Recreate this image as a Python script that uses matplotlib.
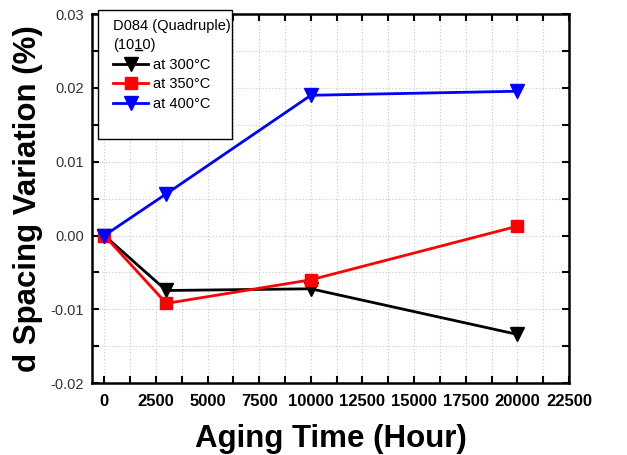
import matplotlib
matplotlib.use("Agg")
import matplotlib.pyplot as plt
from matplotlib.lines import Line2D
from matplotlib.patches import Rectangle
from matplotlib.text import Text
from matplotlib.ticker import MultipleLocator, FormatStrFormatter

plt.rcParams['font.family'] = ['Liberation Sans', 'DejaVu Sans']
plt.rcParams['axes.unicode_minus'] = False

hours = [0, 3000, 10000, 20000]
s300 = [0.0, -0.00745, -0.00722, -0.0134]
s350 = [0.0, -0.0092, -0.0060, 0.00126]
s400 = [0.0, 0.00565, 0.0190, 0.01955]
labels = ["at 300°C", "at 350°C", "at 400°C"]
title_line1 = "D084 (Quadruple)"
title_line2 = "(1010)"

W, H = 627, 455
fig = plt.figure(figsize=(W / 100, H / 100), dpi=100)
ax = fig.add_axes([0.1467, 0.158, 0.7608, 0.811])

ax.plot(hours, s300, color='black', lw=2, marker='v', ms=10, label=labels[0])
ax.plot(hours, s350, color='red', lw=2, marker='s', ms=8, label=labels[1])
ax.plot(hours, s400, color='blue', lw=2, marker='v', ms=10, label=labels[2])

ax.set_xlim(-600, 22500)
ax.set_ylim(-0.02, 0.03)
ax.xaxis.set_major_locator(MultipleLocator(2500))
ax.xaxis.set_minor_locator(MultipleLocator(1250))
ax.yaxis.set_major_locator(MultipleLocator(0.01))
ax.yaxis.set_minor_locator(MultipleLocator(0.005))
ax.yaxis.set_major_formatter(FormatStrFormatter('%.2f'))

ax.grid(True, which='both', linestyle=(0, (1, 2)), color='#c8c8c8', lw=0.8)
ax.set_axisbelow(True)
ax.tick_params(which='both', direction='in', top=True, right=True, length=5, width=1.5)
ax.tick_params(axis='x', labelsize=12, pad=8)
ax.tick_params(axis='y', labelsize=10.5, labelcolor='#333333', pad=6)
for lab in ax.get_xticklabels():
    lab.set_fontweight('bold')
for sp in ax.spines.values():
    sp.set_linewidth(1.8)
    sp.set_zorder(3)

ax.set_xlabel("Aging Time (Hour)", fontsize=22.5, fontweight='bold', labelpad=11)
ax.set_ylabel("d Spacing Variation (%)", fontsize=22.5, fontweight='bold', labelpad=5)

# legend frame (drawn separately so the content can sit with a wider left margin)
ax.add_patch(Rectangle((98 / W, 1 - 139 / H), 134 / W, 129 / H, transform=fig.transFigure,
                       facecolor='white', edgecolor='black', lw=1.0, zorder=4,
                       clip_on=False))

h, l = ax.get_legend_handles_labels()
h.append(Line2D([], [], color='none'))
l.append(" ")
fs = 10.5
leg = ax.legend(h, l, title=title_line1 + "\n" + title_line2, loc='upper left',
                bbox_to_anchor=(0.0262, 1.0108), borderaxespad=0,
                fontsize=fs, title_fontsize=fs, alignment='left', frameon=False,
                handlelength=2.4, handletextpad=0.3, borderpad=0.6, labelspacing=0.4)
leg.get_title().set_linespacing(1.45)
leg.set_zorder(5)

# underline the bar index (Miller-Bravais notation) in the legend title
fig.canvas.draw()
renderer = fig.canvas.get_renderer()
tt = leg.get_title()
tb = tt.get_window_extent(renderer)
fp = tt.get_fontproperties()
def _w(s):
    t = Text(0, 0, s, fontproperties=fp, figure=fig)
    return t.get_window_extent(renderer).width
x0 = tb.x0 + _w("(10") + 0.5
x1 = tb.x0 + _w("(101") - 0.5
yb = tb.y0 + 1.5
ax.add_line(Line2D([x0 / fig.bbox.width, x1 / fig.bbox.width],
                   [yb / fig.bbox.height, yb / fig.bbox.height],
                   color='black', lw=1.0, transform=fig.transFigure, zorder=6,
                   clip_on=False))

fig.savefig("out.png", dpi=100)
